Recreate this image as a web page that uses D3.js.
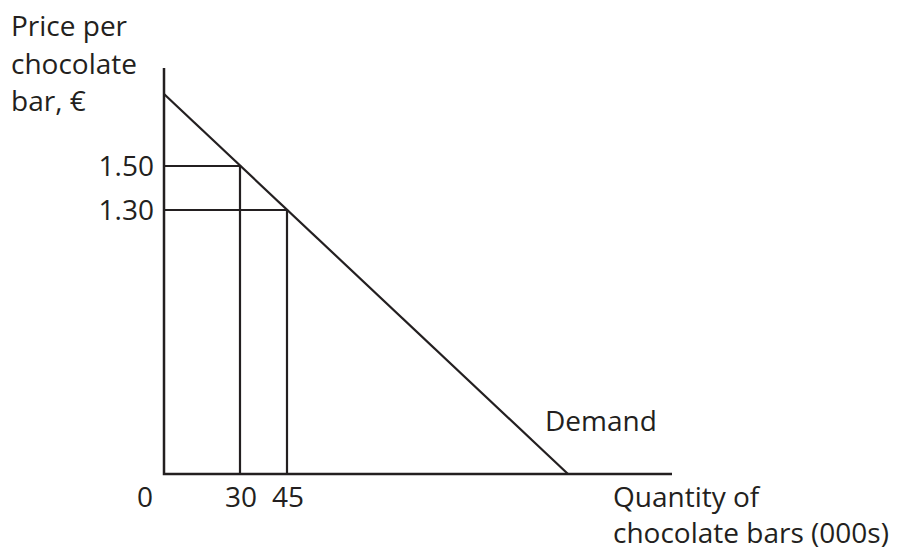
<!DOCTYPE html>
<html>
<head>
<meta charset="utf-8">
<script src="https://cdn.jsdelivr.net/npm/d3@7"></script>
<style>
  body { margin: 0; background: #fff; }
  text { font-family: "Open Sans", "Noto Sans", sans-serif; font-size: 28px; fill: #231f20; }
</style>
</head>
<body>
<svg id="chart"></svg>
<script>
// demand curve endpoints and the two marked points (quantity in 000s, price in euro)
const demand = [{ q: 0, p: 1.90 }, { q: 142.5, p: 0 }];
const marked = [{ q: 30, p: 1.50 }, { q: 45, p: 1.30 }];
const qTicks = [0, 30, 45];
const pTicks = ["1.50", "1.30"];
const qAxisEnd = 180;
const pAxisEnd = 2.05;

const width = 898, height = 550;
const ink = "#231f20";

const svg = d3.select("#chart").attr("width", width).attr("height", height);

// diagram is not drawn to scale, so the scales are piecewise
const x = d3.scaleLinear()
  .domain([0, 30, 45, 142.5, qAxisEnd])
  .range([164, 240, 287, 568, 672]);
const y = d3.scaleLinear()
  .domain([0, 1.30, 1.50, 1.90, pAxisEnd])
  .range([474, 210, 166, 94, 68]);

const g = svg.append("g");

// axes
g.append("path")
  .attr("d", d3.line()([[x(0), y(pAxisEnd)], [x(0), y(0)], [x(qAxisEnd), y(0)]]))
  .attr("fill", "none")
  .attr("stroke", ink)
  .attr("stroke-width", 2.5);

// guide lines to the marked points
g.selectAll(".guide")
  .data(marked)
  .enter()
  .append("path")
  .attr("class", "guide")
  .attr("d", d => d3.line()([[x(0), y(d.p)], [x(d.q), y(d.p)], [x(d.q), y(0)]]))
  .attr("fill", "none")
  .attr("stroke", ink)
  .attr("stroke-width", 2.2);

// demand line
g.append("path")
  .attr("d", d3.line().x(d => x(d.q)).y(d => y(d.p))(demand))
  .attr("fill", "none")
  .attr("stroke", ink)
  .attr("stroke-width", 2.2);

// tick labels
g.selectAll(".qtick")
  .data(qTicks)
  .enter()
  .append("text")
  .attr("x", d => d === 0 ? x(0) - 19 : x(d) + 1)
  .attr("y", 507)
  .attr("text-anchor", "middle")
  .text(d => d);

g.selectAll(".ptick")
  .data(pTicks)
  .enter()
  .append("text")
  .attr("x", x(0) - 10)
  .attr("y", d => y(+d) + 10)
  .attr("text-anchor", "end")
  .text(d => d);

// axis titles
const yTitle = ["Price per", "chocolate", "bar, \u20ac"];
svg.append("text")
  .selectAll("tspan")
  .data(yTitle)
  .enter()
  .append("tspan")
  .attr("x", 11)
  .attr("y", (d, i) => 36 + i * 37.5)
  .text(d => d);

const xTitle = ["Quantity of", "chocolate bars (000s)"];
svg.append("text")
  .selectAll("tspan")
  .data(xTitle)
  .enter()
  .append("tspan")
  .attr("x", 613)
  .attr("y", (d, i) => 507 + i * 36)
  .text(d => d);

svg.append("text")
  .attr("x", 545)
  .attr("y", 431)
  .text("Demand");
</script>
</body>
</html>
